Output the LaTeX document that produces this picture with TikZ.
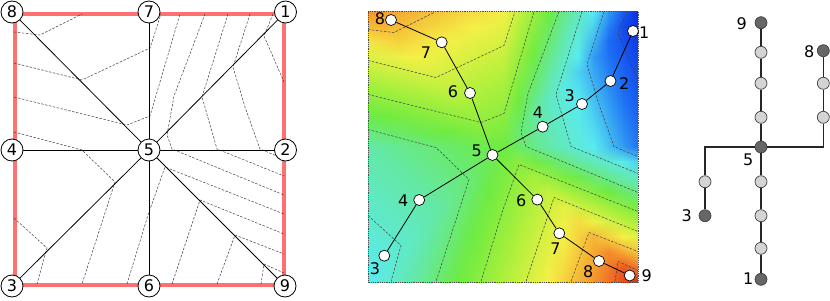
\documentclass[tikz,border=0pt]{standalone}
\usepackage{fontspec}
\setmainfont{DejaVu Sans}
\usetikzlibrary{shadings}

\definecolor{borda}{RGB}{255,112,112}
\definecolor{noescuro}{RGB}{102,102,102}
\definecolor{noclaro}{RGB}{212,212,212}
\newcommand\numfont{\fontsize{16}{19}\selectfont}

% valores nos lados (direita, esquerda, cima, baixo) e mapa de cores (valores 1..9)
\def\fldsides{{1,2,9,8,4,3,8,7,1,3,6,9}}
\def\fldmapR{{10,30,90,100,110,175,245,245,225}}
\def\fldmapG{{40,115,235,232,235,240,240,150,40}}
\def\fldmapB{{230,245,240,170,65,60,70,45,25}}
\newcommand\fieldcol[3]{%
  \pgfmathsetmacro\fldx{(15*(#2)-135)/135}%
  \pgfmathsetmacro\fldy{(15*(#3)-135)/135}%
  \pgfmathsetmacro\flds{max(max(abs(\fldx),abs(\fldy)),0.001)}%
  \pgfmathtruncatemacro\fldside{abs(\fldx)>=abs(\fldy) ? (\fldx>0 ? 0 : 1) : (\fldy<0 ? 2 : 3)}%
  \pgfmathsetmacro\fldq{abs(\fldx)>=abs(\fldy) ? 1+\fldy/\flds : 1+\fldx/\flds}%
  \pgfmathsetmacro\fldpA{\fldsides[3*\fldside]}%
  \pgfmathsetmacro\fldpB{\fldsides[3*\fldside+1]}%
  \pgfmathsetmacro\fldpC{\fldsides[3*\fldside+2]}%
  \pgfmathsetmacro\fldgb{\fldq<=1 ? \fldpA+(\fldpB-\fldpA)*\fldq : \fldpB+(\fldpC-\fldpB)*(\fldq-1)}%
  \pgfmathsetmacro\fldv{5+\flds*(\fldgb-5)}%
  \pgfmathtruncatemacro\fldc{max(min(int(\fldv),8),1)}%
  \pgfmathsetmacro\fldt{\fldv-\fldc}%
  \pgfmathsetmacro\fldr{((1-\fldt)*\fldmapR[\fldc-1]+\fldt*\fldmapR[\fldc])/255}%
  \pgfmathsetmacro\fldg{((1-\fldt)*\fldmapG[\fldc-1]+\fldt*\fldmapG[\fldc])/255}%
  \pgfmathsetmacro\fldbl{((1-\fldt)*\fldmapB[\fldc-1]+\fldt*\fldmapB[\fldc])/255}%
  \definecolor{#1}{rgb}{\fldr,\fldg,\fldbl}%
}

% curvas de nivel (coordenadas dentro do quadrado)
\newcommand\contornos{%
  \draw[contorno] (0,18) -- (26,21) -- (68,0);
  \draw[contorno] (0,49) -- (68,66) -- (136,34) -- (147,0);
  \draw[contorno] (0,83) -- (113,111) -- (136,102) -- (166,0);
  \draw[contorno] (0,118) -- (68,136) -- (101,168) -- (68,270);
  \draw[contorno] (0,204) -- (33,234) -- (23,270);
  \draw[contorno] (113,270) -- (134,201) -- (151,153) -- (270,200);
  \draw[contorno] (191,0) -- (160,82) -- (153,121) -- (158,135) -- (270,181);
  \draw[contorno] (214,0) -- (188,83) -- (203,135) -- (270,162);
  \draw[contorno] (236,0) -- (219,53) -- (231,93) -- (246,135) -- (270,145);
  \draw[contorno] (259,0) -- (250,22) -- (270,68);
  \draw[contorno] (158,270) -- (186,186) -- (270,220);
  \draw[contorno] (203,270) -- (221,221) -- (270,240);
  \draw[contorno] (247,270) -- (250,250) -- (270,259);
}

\begin{document}
\begin{tikzpicture}[x=1pt,y=-1pt,
    circulo/.style={circle,draw,fill=white,minimum size=22pt,inner sep=0pt,line width=0.8pt,font=\numfont},
    ponto/.style={circle,draw,fill=white,minimum size=11pt,inner sep=0pt,line width=0.7pt},
    no/.style={circle,draw=black!75,minimum size=12pt,inner sep=0pt,line width=0.7pt},
    rotulo/.style={font=\numfont,inner sep=0pt},
    contorno/.style={dash pattern=on 2.5pt off 1.5pt,line width=0.5pt,black!75}]
  \useasboundingbox (0,0) rectangle (830,300);

  % Quadrado da esquerda
  \draw[borda,line width=4pt] (14.5,14) rectangle (284.3,284.5);
  \begin{scope}[shift={(14,14)}]
    \contornos
  \end{scope}
  \node[circulo] (l8) at (12,12) {8};
  \node[circulo] (l7) at (149,12) {7};
  \node[circulo] (l1) at (285.5,12) {1};
  \node[circulo] (l4) at (12,150) {4};
  \node[circulo] (l5) at (149,150) {5};
  \node[circulo] (l2) at (285.5,150) {2};
  \node[circulo] (l3) at (12,286) {3};
  \node[circulo] (l6) at (149,286) {6};
  \node[circulo] (l9) at (285,286) {9};
  \foreach \n in {1,2,3,4,6,7,8,9}
    \draw[line width=0.8pt] (l5) -- (l\n);

  % Campo colorido
  \begin{scope}
    \clip (368,11.5) rectangle (638,282);
    \foreach \i in {0,...,17}
      \foreach \j in {0,...,17}{
        \fieldcol{cUL}{\i}{\j}
        \fieldcol{cUR}{\i+1}{\j}
        \fieldcol{cLL}{\i}{\j+1}
        \fieldcol{cLR}{\i+1}{\j+1}
        \shade[upper left=cUL,upper right=cUR,lower left=cLL,lower right=cLR]
          (368+15*\i,11.5+15*\j) rectangle (368.6+15*\i+15,12.1+15*\j+15);
      }
  \end{scope}
  \begin{scope}[shift={(368,11.5)}]
    \contornos
  \end{scope}
  \draw[densely dotted,line width=0.8pt,black!70] (368,11.5) rectangle (638,282);

  \node[ponto] (m8a) at (391,20) {};
  \node[ponto] (m7a) at (441.7,42.3) {};
  \node[ponto] (m6a) at (470,93) {};
  \node[ponto] (m5) at (492.5,155) {};
  \node[ponto] (m4a) at (419.2,200) {};
  \node[ponto] (m3a) at (384.3,255.7) {};
  \node[ponto] (m4b) at (542.7,126.7) {};
  \node[ponto] (m3b) at (582,104) {};
  \node[ponto] (m2) at (610.5,81) {};
  \node[ponto] (m1) at (633,31) {};
  \node[ponto] (m6b) at (537.3,199.6) {};
  \node[ponto] (m7b) at (559.3,233.3) {};
  \node[ponto] (m8b) at (599,261) {};
  \node[ponto] (m9) at (629.7,275.5) {};
  \foreach \a/\b in {m8a/m7a,m7a/m6a,m6a/m5,m5/m4a,m4a/m3a,m5/m4b,m4b/m3b,m3b/m2,m2/m1,m5/m6b,m6b/m7b,m7b/m8b,m8b/m9}
    \draw[line width=0.8pt] (\a) -- (\b);

  \node[rotulo] (t8a) at (380,19) {8};
  \node[rotulo] (t7a) at (426,53) {7};
  \node[rotulo] (t6a) at (453,92) {6};
  \node[rotulo] (t5) at (476.7,150.5) {5};
  \node[rotulo] (t4a) at (403.3,200.7) {4};
  \node[rotulo] (t3a) at (375,268.3) {3};
  \node[rotulo] (t4b) at (538,112.7) {4};
  \node[rotulo] (t3b) at (569.7,95.5) {3};
  \node[rotulo] (t2) at (624.2,83.3) {2};
  \node[rotulo] (t1) at (644.3,32.3) {1};
  \node[rotulo] (t6b) at (521.3,200.3) {6};
  \node[rotulo] (t7b) at (555.5,248.3) {7};
  \node[rotulo] (t8b) at (588.3,271.7) {8};
  \node[rotulo] (t9) at (646.7,276) {9};

  % Arvore
  \node[no,fill=noescuro] (r9) at (761,22.7) {};
  \node[no,fill=noclaro] (ra) at (761,52.3) {};
  \node[no,fill=noclaro] (rb) at (761,83.3) {};
  \node[no,fill=noclaro] (rc) at (761,117.3) {};
  \node[no,fill=noescuro] (r5) at (761,147) {};
  \node[no,fill=noclaro] (rd) at (761,181.7) {};
  \node[no,fill=noclaro] (re) at (761,215.7) {};
  \node[no,fill=noclaro] (rf) at (761,248.3) {};
  \node[no,fill=noescuro] (r1) at (761,279.3) {};
  \coordinate (cl) at (705,147);
  \node[no,fill=noclaro] (rg) at (705,181.7) {};
  \node[no,fill=noescuro] (r3) at (705,215.7) {};
  \coordinate (cr) at (823.3,147);
  \node[no,fill=noclaro] (rh) at (823.3,117.3) {};
  \node[no,fill=noclaro] (ri) at (823.3,83.3) {};
  \node[no,fill=noescuro] (r8) at (823.3,50.7) {};
  \foreach \a/\b in {r9/ra,ra/rb,rb/rc,rc/r5,r5/rd,rd/re,re/rf,rf/r1,rg/r3,rh/ri,ri/r8}
    \draw[line width=1.5pt,black!85] (\a) -- (\b);
  \draw[line width=1.5pt,black!85] (r5) -- (cl) -- (rg);
  \draw[line width=1.5pt,black!85] (r5) -- (cr) -- (rh);

  \node[rotulo] (s9) at (741.7,24) {9};
  \node[rotulo] (s5) at (748.3,159.3) {5};
  \node[rotulo] (s1) at (748.3,278.3) {1};
  \node[rotulo] (s3) at (686.7,215.7) {3};
  \node[rotulo] (s8) at (809.3,51.7) {8};
\end{tikzpicture}
\end{document}
